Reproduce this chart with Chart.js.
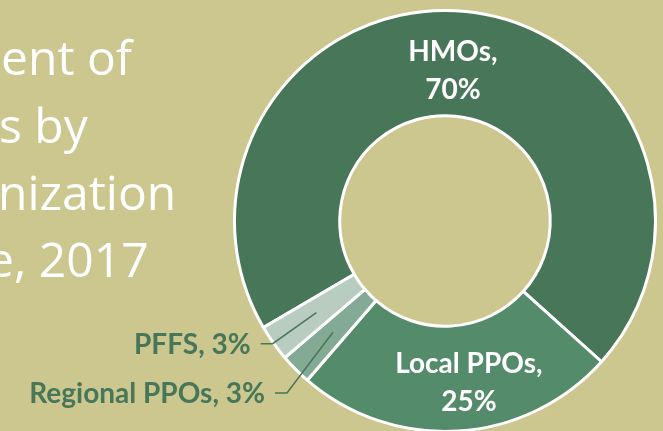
<!DOCTYPE html>
<html><head><meta charset="utf-8">
<script src="https://cdn.jsdelivr.net/npm/chart.js@4"></script>
<style>
html,body{margin:0;padding:0;background:#CBC78F;overflow:hidden;width:663px;height:431px}
#wrap{position:absolute;left:0;top:0;width:663px;height:436px}
</style></head><body>
<div id="wrap"><canvas id="c"></canvas></div>
<script>
// ---- data ----
const categories = ['HMOs', 'Local PPOs', 'Regional PPOs', 'PFFS'];
const shares = [70.1, 24.7, 2.4, 2.8];           // share of enrollment (%)
const shareLabels = ['70%', '25%', '3%', '3%'];   // printed labels
const titleLines = ['ent of', 's by', 'nization', 'e, 2017'];
const sliceColors = ['#477659', '#548C6B', '#82AA94', '#B8CCBF'];

const LABEL_FONT = '"Lato", "Open Sans", sans-serif';
const TITLE_FONT = '"Open Sans", "Lato", sans-serif';

const titlePlugin = {
  id: 'titleText',
  beforeDraw(chart) {
    const ctx = chart.ctx;
    ctx.save();
    ctx.fillStyle = '#FFFFFF';
    ctx.font = '400 48px ' + TITLE_FONT;
    ctx.textAlign = 'left';
    ctx.textBaseline = 'alphabetic';
    const xs = [1, -1, -2, -13];
    const ys = [75, 143, 210, 277];
    titleLines.forEach((t, i) => ctx.fillText(t, xs[i], ys[i]));
    ctx.restore();
  }
};

const labelPlugin = {
  id: 'sliceLabels',
  afterDatasetsDraw(chart) {
    const ctx = chart.ctx;
    const meta = chart.getDatasetMeta(0);
    ctx.save();
    ctx.font = 'bold 28px ' + LABEL_FONT;
    ctx.textBaseline = 'middle';
    meta.data.forEach((arc, i) => {
      const p = arc.tooltipPosition();
      const props = arc.getProps(['x', 'y', 'startAngle', 'endAngle', 'outerRadius'], true);
      const mid = (props.startAngle + props.endAngle) / 2;
      if (i < 2) {
        const off = i === 0 ? [-8, 7] : [14, 4];
        const cx = p.x + off[0], cy = p.y + off[1];
        ctx.fillStyle = '#FFFFFF';
        ctx.textAlign = 'center';
        ctx.fillText(categories[i] + ',', cx, cy - 19);
        ctx.fillText(shareLabels[i], cx, cy + 19);
      } else {
        const rb = i === 3 ? props.outerRadius + 1 : props.outerRadius + 23;
        const ab = i === 3 ? mid : mid - 2.6 * Math.PI / 180;
        const bx = props.x + rb * Math.cos(ab);
        const by = props.y + rb * Math.sin(ab);
        ctx.strokeStyle = '#477659';
        ctx.lineWidth = 1.5;
        ctx.beginPath();
        ctx.moveTo(p.x, p.y);
        ctx.lineTo(bx, by);
        ctx.lineTo(bx - 12, by);
        ctx.stroke();
        ctx.fillStyle = '#477659';
        ctx.textAlign = 'right';
        ctx.fillText(categories[i] + ', ' + shareLabels[i], bx - 22, by + 1);
      }
    });
    ctx.restore();
  }
};

new Chart(document.getElementById('c'), {
  type: 'doughnut',
  data: {
    labels: categories,
    datasets: [{
      data: shares,
      backgroundColor: sliceColors,
      borderColor: '#FFFFFF',
      borderWidth: 3
    }]
  },
  options: {
    responsive: true,
    maintainAspectRatio: false,
    animation: false,
    rotation: 239.6,
    cutout: '50%',
    layout: { padding: { left: 233, right: 6, top: 9, bottom: 3 } },
    plugins: { legend: { display: false }, tooltip: { enabled: false } }
  },
  plugins: [titlePlugin, labelPlugin]
});
</script>
</body></html>
